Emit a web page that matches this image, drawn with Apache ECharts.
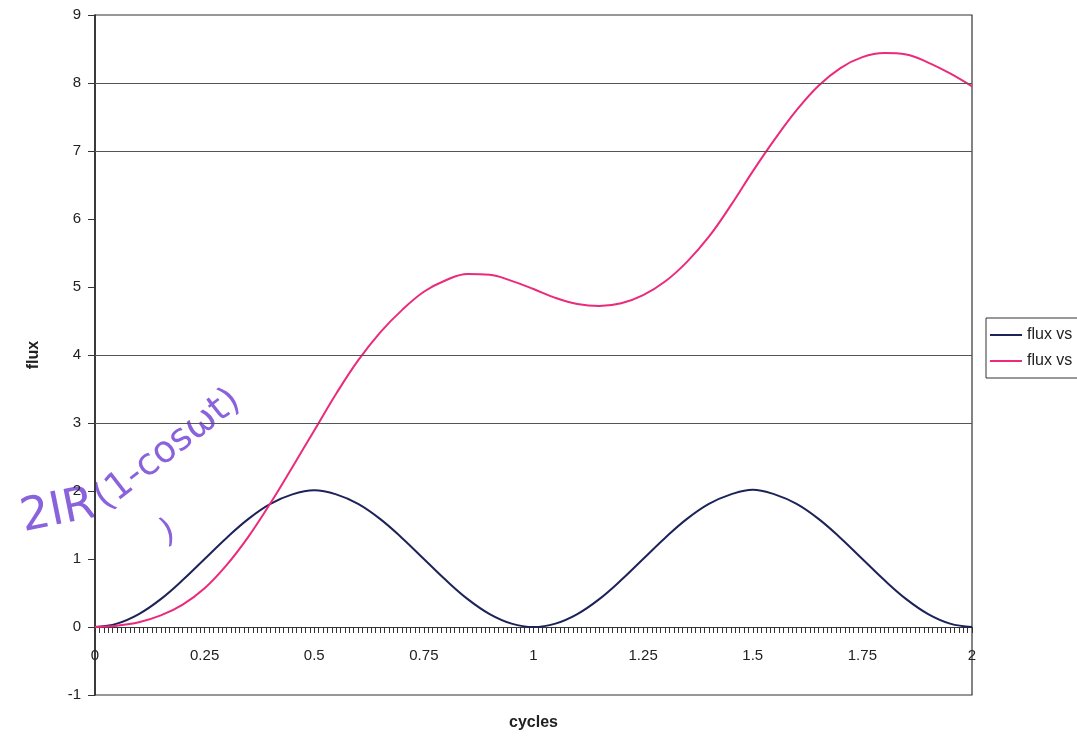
<!DOCTYPE html>
<html>
<head>
<meta charset="utf-8">
<script src="https://cdn.jsdelivr.net/npm/echarts@6/dist/echarts.min.js"></script>
<style>
html,body{margin:0;padding:0;background:#fff;}
#chart{width:1077px;height:740px;}
</style>
</head>
<body>
<div id="chart"></div>
<script>
// cycles (x values)
const cycles = [0,0.05,0.1,0.15,0.2,0.25,0.3,0.35,0.4,0.45,0.5,0.55,0.6,0.65,0.7,0.75,0.8,0.85,0.9,0.95,1,
  1.05,1.1,1.15,1.2,1.25,1.3,1.35,1.4,1.45,1.5,1.55,1.6,1.65,1.7,1.75,1.8,1.85,1.9,1.95,2];
// series 1 (navy)
const fluxA = [0,0.05,0.19,0.41,0.69,1.0,1.31,1.59,1.81,1.95,2.01,1.95,1.81,1.59,1.31,1.0,0.69,0.41,0.19,0.05,0,
  0.05,0.19,0.41,0.69,1.0,1.31,1.59,1.81,1.95,2.02,1.95,1.81,1.59,1.31,1.0,0.69,0.41,0.19,0.05,0];
// series 2 (pink)
const fluxB = [0,0.02,0.07,0.17,0.33,0.57,0.91,1.33,1.82,2.35,2.89,3.43,3.92,4.33,4.66,4.93,5.10,5.19,5.18,5.09,4.97,
  4.84,4.75,4.72,4.76,4.88,5.08,5.37,5.74,6.20,6.70,7.17,7.60,7.96,8.22,8.38,8.44,8.42,8.30,8.14,7.95];
const seriesNames = ['flux vs cycles', 'flux vs time'];
const gridLevels = [3, 4, 7, 8];
const xTicks = [0, 0.25, 0.5, 0.75, 1, 1.25, 1.5, 1.75, 2];
const yMin = -1, yMax = 9;

const chart = echarts.init(document.getElementById('chart'), null, {renderer:'canvas'});
const font = 'Liberation Sans, Arial, sans-serif';
const zip = (xs, ys) => xs.map((x, i) => [x, ys[i]]);
const plotTop = 15, plotBottom = 45, plotH = 740 - plotTop - plotBottom;
// distance from bottom edge (yMin) up to the zero line
const zeroOffset = plotH * (0 - yMin) / (yMax - yMin);

chart.setOption({
  animation: false,
  backgroundColor: '#fff',
  textStyle: {fontFamily: font},
  grid: {left: 95, right: 105, top: plotTop, bottom: plotBottom, containLabel: false, outerBoundsMode: 'none',
    show: true, borderColor: '#333', borderWidth: 1.2, backgroundColor: 'transparent'},
  legend: {
    orient: 'vertical', left: 986, top: 318,
    data: seriesNames,
    icon: 'rect', itemWidth: 32, itemHeight: 2, itemGap: 10,
    padding: [9, 40, 9, 4],
    borderColor: '#333', borderWidth: 1,
    textStyle: {fontSize: 16, color: '#222', fontFamily: font}
  },
  xAxis: {
    type: 'value', min: 0, max: 2, interval: 0.25,
    position: 'bottom', offset: -zeroOffset,
    name: 'cycles', nameLocation: 'middle', nameGap: 88, nameMoveOverlap: false,
    nameTextStyle: {fontSize: 16, fontWeight: 'bold', color: '#222', fontFamily: font},
    axisLine: {onZero: false, lineStyle: {color: '#333', width: 1.2}},
    axisTick: {show: true, length: 6, lineStyle: {color: '#333'}},
    minorTick: {show: true, splitNumber: 25, length: 6, lineStyle: {color: '#333'}},
    axisLabel: {fontSize: 15, color: '#222', margin: 21, hideOverlap: false,
      formatter: v => (xTicks.indexOf(v) >= 0 ? String(v) : '')},
    splitLine: {show: false}
  },
  yAxis: {
    type: 'value', min: yMin, max: yMax, interval: 1,
    name: 'flux', nameLocation: 'middle', nameGap: 53,
    nameTextStyle: {fontSize: 16, fontWeight: 'bold', color: '#222', fontFamily: font},
    axisLine: {show: true, onZero: false, lineStyle: {color: '#222', width: 1.5}},
    axisTick: {show: true, length: 7, lineStyle: {color: '#333'}},
    axisLabel: {fontSize: 15, color: '#222', margin: 14},
    splitLine: {show: false}
  },
  series: [
    {
      name: seriesNames[0], type: 'line', smooth: 0.4, showSymbol: false,
      data: zip(cycles, fluxA),
      lineStyle: {color: '#1d2259', width: 2}, itemStyle: {color: '#1d2259'},
      markLine: {
        silent: true, symbol: ['none', 'none'], label: {show: false},
        lineStyle: {color: '#555', width: 1.2, type: 'solid'},
        data: gridLevels.map(v => ({yAxis: v}))
      }
    },
    {
      name: seriesNames[1], type: 'line', smooth: 0.4, showSymbol: false,
      data: zip(cycles, fluxB),
      lineStyle: {color: '#ec2a7c', width: 2}, itemStyle: {color: '#ec2a7c'}
    }
  ],
  graphic: [
    {type: 'text', x: 58, y: 512, rotation: 0.2,
      style: {text: '2IR', fontSize: 46, fontFamily: 'DejaVu Sans', fill: '#8a62dc', textAlign: 'center', textVerticalAlign: 'middle'}},
    {type: 'text', x: 168, y: 450, rotation: 0.66,
      style: {text: '(1-cosωt)', fontSize: 37, fontFamily: 'DejaVu Sans', fill: '#8a62dc', textAlign: 'center', textVerticalAlign: 'middle'}},
    {type: 'text', x: 168, y: 533, rotation: 0.35,
      style: {text: ')', fontSize: 34, fontFamily: 'DejaVu Sans', fill: '#8a62dc', textAlign: 'center', textVerticalAlign: 'middle'}}
  ]
});
</script>
</body>
</html>
